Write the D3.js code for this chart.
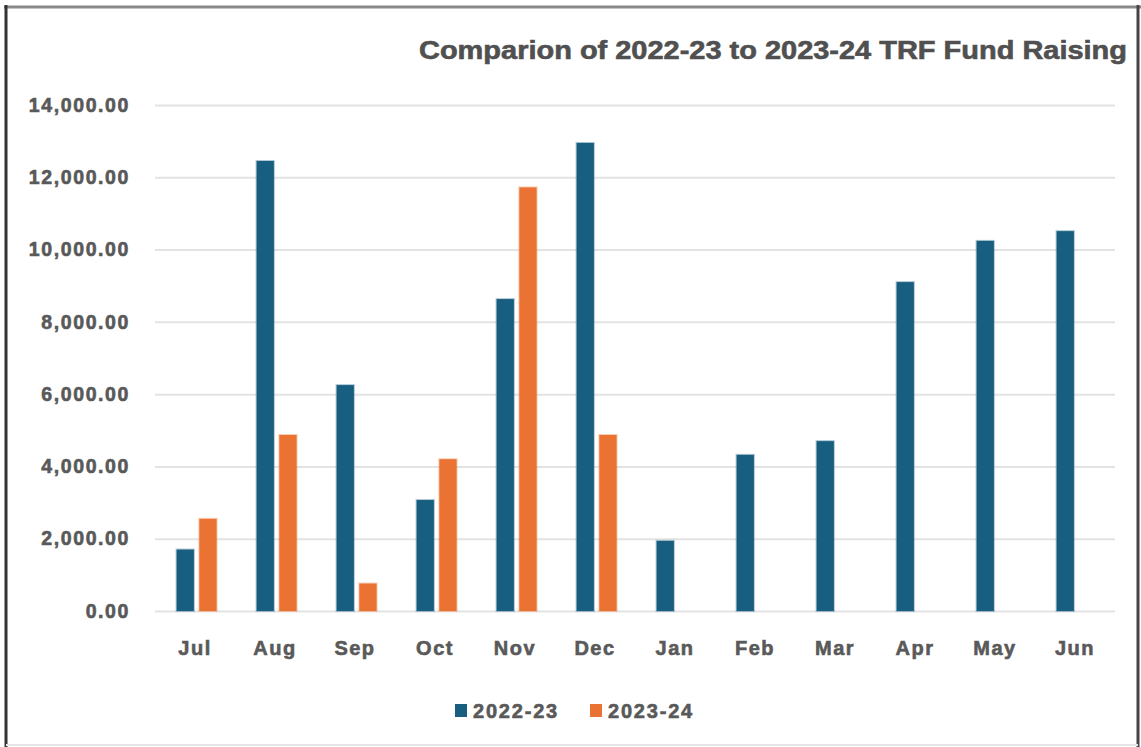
<!DOCTYPE html>
<html>
<head>
<meta charset="utf-8">
<script src="https://cdn.jsdelivr.net/npm/d3@7"></script>
<style>
  body { margin: 0; background: #fff; }
  svg { display: block; }
  text { font-family: "Liberation Sans", Arial, sans-serif; font-weight: bold; fill: #595959; stroke: #595959; stroke-width: 0.6px; }
</style>
</head>
<body>
<div id="chart"></div>
<script>
// data
var months = ["Jul", "Aug", "Sep", "Oct", "Nov", "Dec", "Jan", "Feb", "Mar", "Apr", "May", "Jun"];
var seriesNames = ["2022-23", "2023-24"];
var values2223 = [1700, 12450, 6250, 3070, 8630, 12950, 1940, 4320, 4700, 9100, 10240, 10510];
var values2324 = [2550, 4870, 760, 4200, 11720, 4870, null, null, null, null, null, null];
var yTicks = [0, 2000, 4000, 6000, 8000, 10000, 12000, 14000];
var colors = ["#185e80", "#ea7333"];

var svgWidth = 1141, svgHeight = 747;
var margin = { top: 105, right: 26, bottom: 136, left: 155 };
var width = svgWidth - margin.left - margin.right;
var height = svgHeight - margin.top - margin.bottom;

var svg = d3.select("#chart").append("svg")
    .attr("width", svgWidth)
    .attr("height", svgHeight);

// frame
svg.append("line").attr("x1", 4).attr("x2", 1141).attr("y1", 7).attr("y2", 7)
    .attr("stroke", "#8a8a8a").attr("stroke-width", 3);
svg.append("line").attr("x1", 6).attr("x2", 6).attr("y1", 5).attr("y2", 747)
    .attr("stroke", "#333").attr("stroke-width", 3);
svg.append("line").attr("x1", 1138).attr("x2", 1138).attr("y1", 5).attr("y2", 747)
    .attr("stroke", "#444").attr("stroke-width", 3);
svg.append("line").attr("x1", 6).attr("x2", 1138).attr("y1", 745).attr("y2", 745)
    .attr("stroke", "#e6e6e6").attr("stroke-width", 2);

var g = svg.append("g").attr("transform", `translate(${margin.left}, ${margin.top})`);

var x0 = d3.scaleBand().domain(months).range([0, width]).paddingInner(0).paddingOuter(0);
var x1 = d3.scaleBand().domain(seriesNames).range([x0.bandwidth() * 0.27, x0.bandwidth() * 0.77]).paddingInner(0.24);
var y = d3.scaleLinear().domain([0, 14000]).range([height, 0]);

// gridlines
g.append("g")
    .call(d3.axisLeft(y).tickValues(yTicks).tickSize(-width).tickFormat(""))
    .call(s => s.select(".domain").remove())
    .call(s => s.selectAll("line").attr("stroke", "#e3e3e3").attr("stroke-width", 2));

// y labels
g.append("g")
    .call(d3.axisLeft(y).tickValues(yTicks).tickSize(0).tickPadding(25).tickFormat(d3.format(",.2f")))
    .call(s => s.select(".domain").remove())
    .call(s => s.selectAll("text").attr("fill", "#595959").style("font-size", "19.5px").style("letter-spacing", "1.6px"));

// x labels
g.append("g")
    .attr("transform", `translate(0, ${height})`)
    .call(d3.axisBottom(x0).tickSize(0).tickPadding(30))
    .call(s => s.select(".domain").remove())
    .call(s => s.selectAll("text").attr("fill", "#595959").style("font-size", "20px").style("letter-spacing", "1.5px"));

// bars
var rows = months.map((m, i) => ({ month: m, vals: [values2223[i], values2324[i]] }));
var groups = g.selectAll(".grp").data(rows).enter().append("g")
    .attr("transform", d => `translate(${x0(d.month)}, 0)`);
groups.selectAll("rect")
    .data(d => d.vals.map((v, k) => ({ key: seriesNames[k], value: v, k: k })).filter(d => d.value != null))
    .enter().append("rect")
    .attr("x", d => x1(d.key))
    .attr("y", d => y(d.value))
    .attr("width", x1.bandwidth())
    .attr("height", d => height - y(d.value))
    .attr("fill", d => colors[d.k])
    .attr("stroke", d => colors[d.k])
    .attr("stroke-opacity", 0.35)
    .attr("stroke-width", 2);

// title
svg.append("text")
    .attr("x", 1127).attr("y", 59)
    .attr("text-anchor", "end")
    .attr("textLength", 708).attr("lengthAdjust", "spacingAndGlyphs")
    .style("font-size", "25px")
    .style("fill", "#505050").style("stroke", "#505050")
    .text("Comparion of 2022-23 to 2023-24 TRF Fund Raising");

// legend
var legend = svg.append("g").attr("transform", "translate(455, 710)");
var legendX = [0, 135];
seriesNames.forEach(function (name, i) {
    var item = legend.append("g").attr("transform", `translate(${legendX[i]}, 0)`);
    item.append("rect").attr("x", 0).attr("y", -6).attr("width", 12).attr("height", 13).attr("fill", colors[i]);
    item.append("text").attr("x", 18).attr("y", 8)
        .style("font-size", "20px").style("letter-spacing", "1.8px")
        .text(name);
});
</script>
</body>
</html>
